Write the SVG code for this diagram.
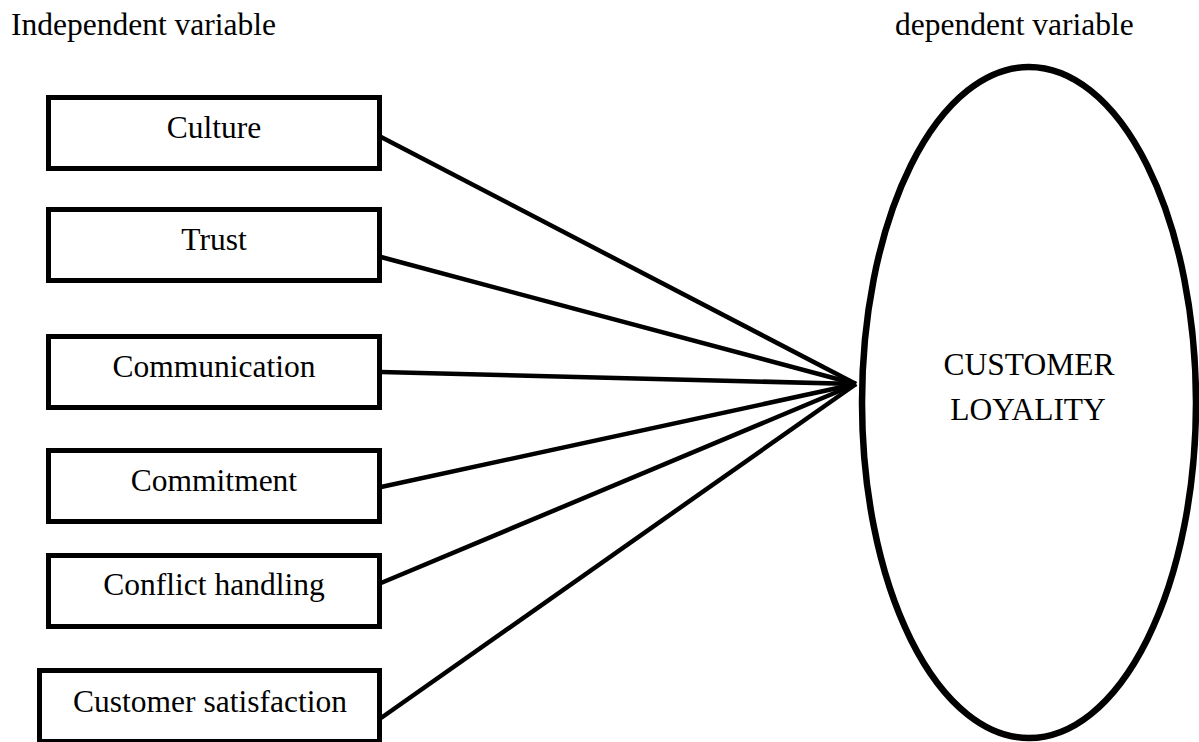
<svg xmlns="http://www.w3.org/2000/svg" width="1199" height="742" viewBox="0 0 1199 742">
<style>
.t{font-family:"Liberation Serif","Times New Roman",serif;font-size:31.5px;fill:#000}
.c{text-anchor:middle}
.box{fill:#fff;stroke:#000;stroke-width:5}
.ln{stroke:#000;stroke-width:4.5;fill:none;stroke-linecap:butt}
</style>
<rect width="1199" height="742" fill="#fff"/>
<g id="headers">
<text class="t" x="11" y="35">Independent variable</text>
<text class="t" x="895" y="35">dependent variable</text>
</g>
<g id="connectors">
<line class="ln" x1="381" y1="137" x2="856" y2="384"/>
<line class="ln" x1="381" y1="257" x2="856" y2="384"/>
<line class="ln" x1="381" y1="372" x2="856" y2="384"/>
<line class="ln" x1="381" y1="487" x2="856" y2="384"/>
<line class="ln" x1="381" y1="583" x2="856" y2="384"/>
<line class="ln" x1="381" y1="718" x2="856" y2="384"/>
</g>
<g id="culture">
<rect class="box" x="48.5" y="97.5" width="331" height="71"/>
<text class="t c" x="214" y="138">Culture</text>
</g>
<g id="trust">
<rect class="box" x="48.5" y="209.5" width="331" height="71"/>
<text class="t c" x="214" y="250">Trust</text>
</g>
<g id="communication">
<rect class="box" x="48.5" y="336.5" width="331" height="71"/>
<text class="t c" x="214" y="377">Communication</text>
</g>
<g id="commitment">
<rect class="box" x="48.5" y="450.5" width="331" height="71"/>
<text class="t c" x="214" y="491">Commitment</text>
</g>
<g id="conflict">
<rect class="box" x="48.5" y="555.5" width="331" height="71"/>
<text class="t c" x="214" y="595">Conflict handling</text>
</g>
<g id="satisfaction">
<rect class="box" x="39.5" y="670.5" width="340" height="71"/>
<text class="t c" x="210" y="712">Customer satisfaction</text>
</g>
<g id="loyalty">
<ellipse cx="1029" cy="402.5" rx="167" ry="335.5" fill="#fff" stroke="#000" stroke-width="6.5"/>
<text class="t c" x="1029" y="375">CUSTOMER</text>
<text class="t c" x="1028" y="420">LOYALITY</text>
</g>
</svg>
